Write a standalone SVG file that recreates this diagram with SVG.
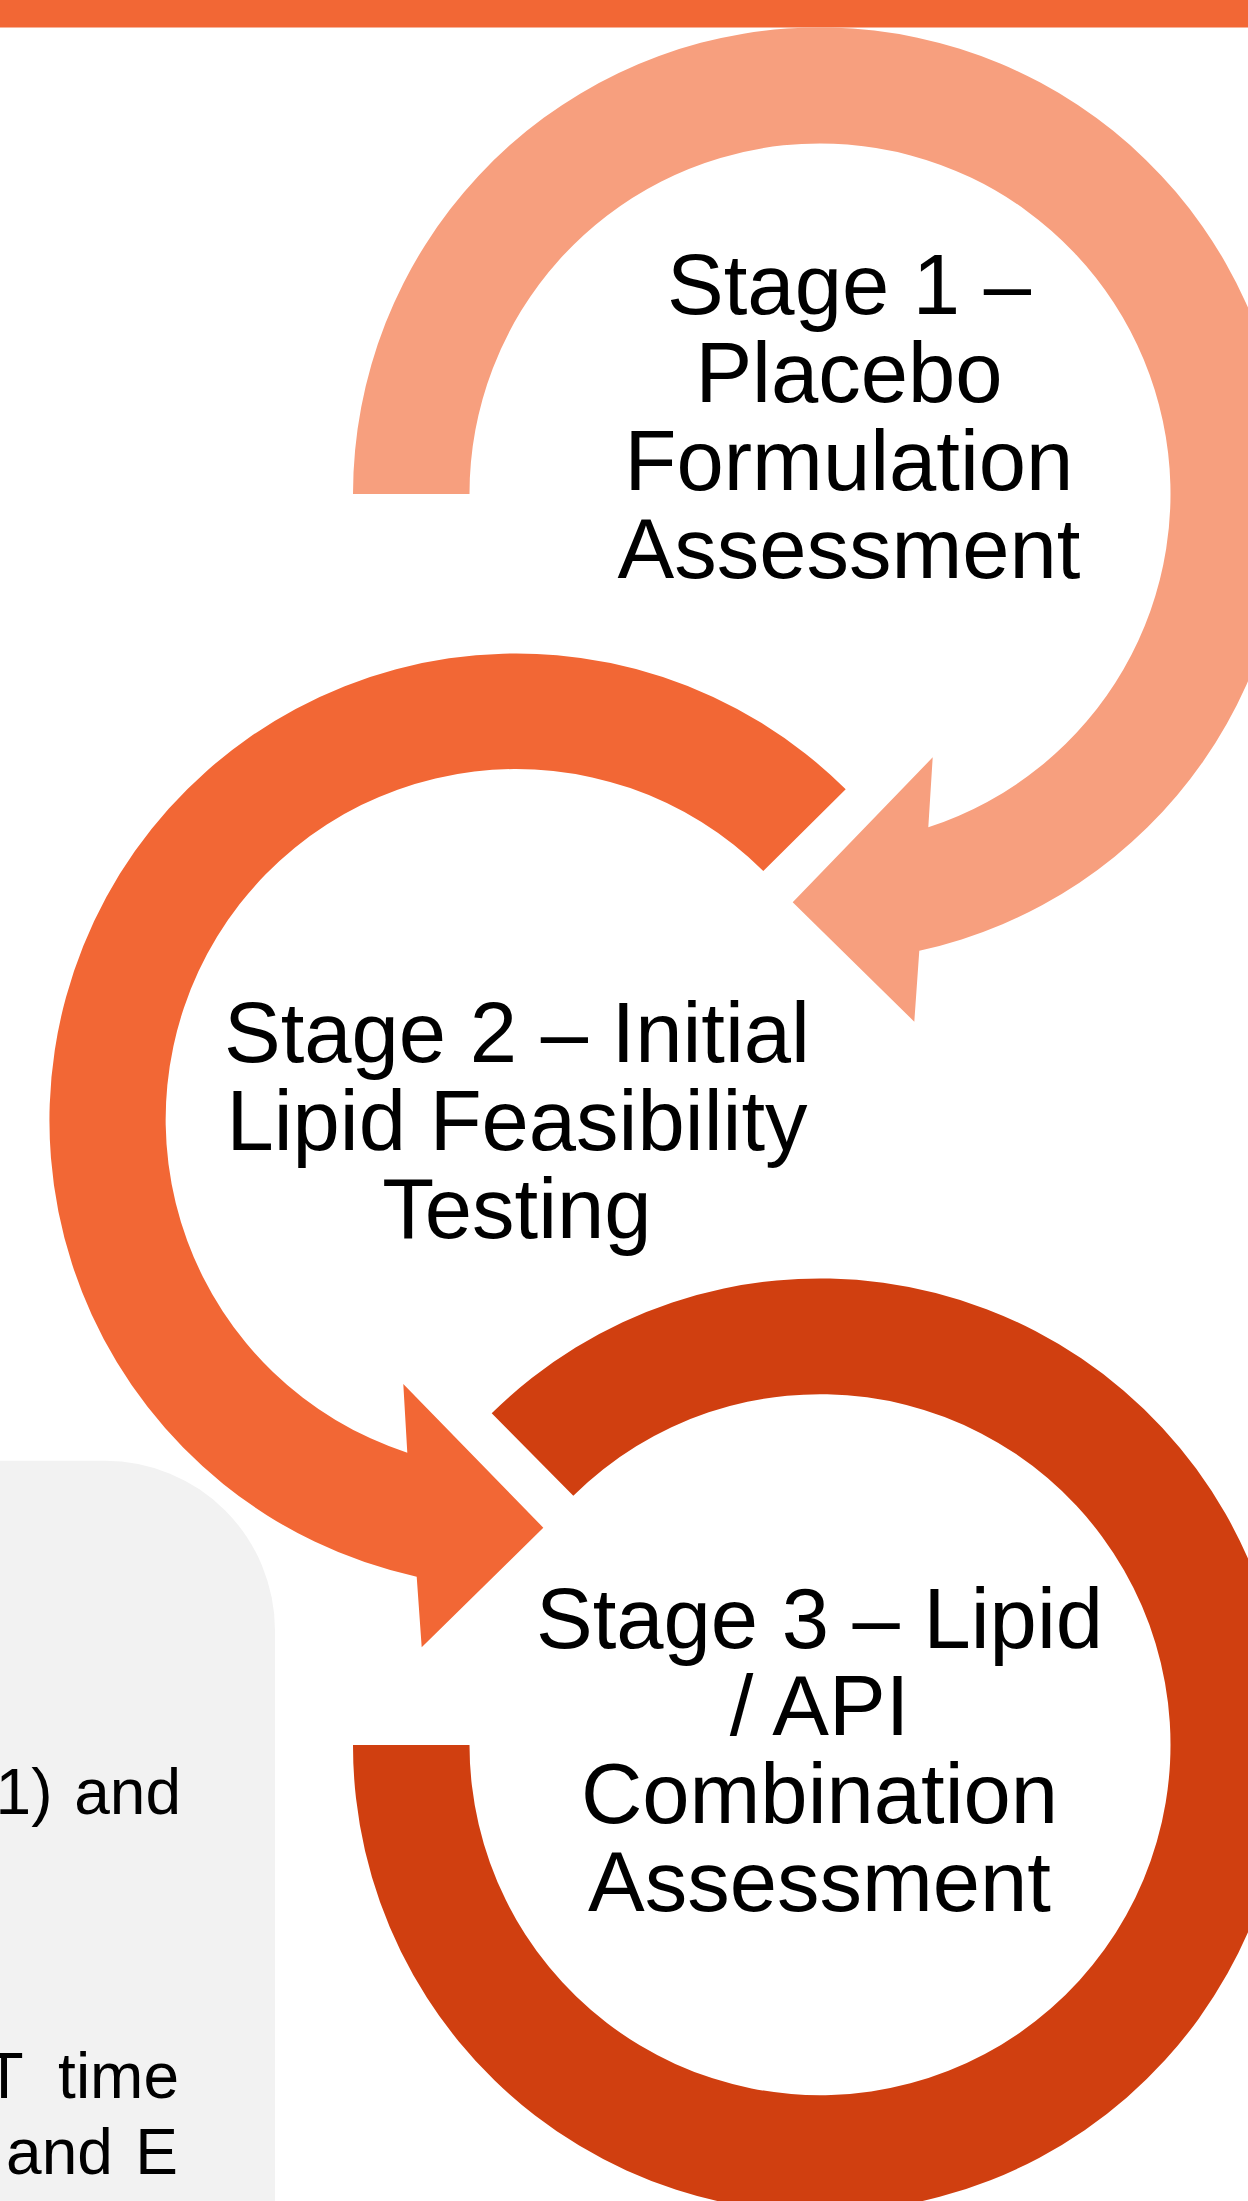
<svg xmlns="http://www.w3.org/2000/svg" width="1248" height="2201" viewBox="0 0 1248 2201">
  <style>
    .lbl { font-family: "Liberation Sans", Arial, sans-serif; font-size: 85px; fill: #000000; text-anchor: middle; }
    .note { font-family: "Liberation Sans", Arial, sans-serif; font-size: 64px; fill: #000000; text-anchor: end; }
    .r1 { fill: #F79F7E; }
    .r2 { fill: #F26735; }
    .r3 { fill: #D03F10; }
  </style>
  <rect x="0" y="0" width="1248" height="2201" fill="#FFFFFF"/>
  <rect id="top-bar" x="0" y="0" width="1248" height="27.5" fill="#F26735"/>

  <g id="notes">
    <rect x="-400" y="1460.7" width="675" height="1000" rx="170" ry="170" fill="#F2F2F2"/>
    <text class="note" x="181" y="1814" word-spacing="4">1) and</text>
    <text class="note" x="179" y="2097.7" word-spacing="18">T time</text>
    <text class="note" x="178" y="2174.3" word-spacing="4.7">and E</text>
  </g>

  <g id="connectors">
    <path id="arrow-stage1" class="r1" d="M 353,494 A 467 467 0 1 1 919.3,950.7 L 914.3,1021.7 L 792.7,902.3 L 932.7,757.3 L 928.3,827.3 A 350.5 350.5 0 1 0 469.5,494 Z"/>
    <path id="arrow-stage2" class="r2" d="M 845.7,789.3 A 467 467 0 1 0 416.7,1576.7 L 421.7,1647.3 L 543.3,1527.7 L 403.3,1384 L 407.3,1452.7 A 350.5 350.5 0 1 1 763.3,871 Z"/>
    <path id="arrow-stage3" class="r3" d="M 491.7,1413.3 A 467 467 0 1 1 353,1745 L 469.5,1745 A 350.5 350.5 0 1 0 573.3,1495.7 Z"/>
  </g>

  <g id="stage1">
    <text class="lbl" x="849" y="314">Stage 1 –</text>
    <text class="lbl" x="849" y="402">Placebo</text>
    <text class="lbl" x="849" y="490">Formulation</text>
    <text class="lbl" x="849" y="578">Assessment</text>
  </g>

  <g id="stage2">
    <text class="lbl" x="517" y="1062">Stage 2 – Initial</text>
    <text class="lbl" x="517" y="1150">Lipid Feasibility</text>
    <text class="lbl" x="517" y="1238">Testing</text>
  </g>

  <g id="stage3">
    <text class="lbl" x="819.5" y="1648">Stage 3 – Lipid</text>
    <text class="lbl" x="819.5" y="1735">/ API</text>
    <text class="lbl" x="819.5" y="1823">Combination</text>
    <text class="lbl" x="819.5" y="1911">Assessment</text>
  </g>
</svg>
